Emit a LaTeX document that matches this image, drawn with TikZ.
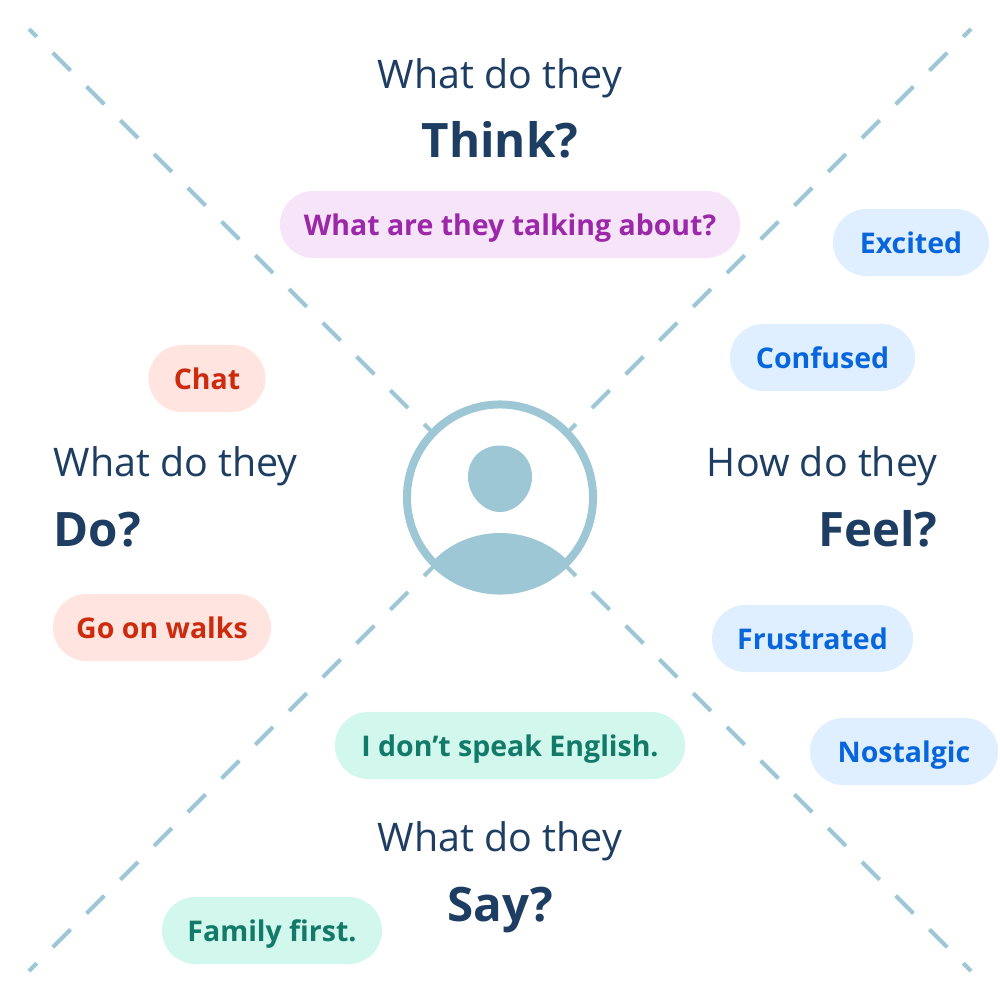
\documentclass[tikz,border=0pt]{standalone}
\usepackage{fontspec}
\setmainfont{Open Sans}
\definecolor{myline}{RGB}{158,199,214}
\definecolor{mynavy}{RGB}{30,61,98}
\definecolor{mypinkbg}{RGB}{246,228,249}
\definecolor{mypink}{RGB}{156,39,168}
\definecolor{mybluebg}{RGB}{224,239,255}
\definecolor{myblue}{RGB}{8,102,220}
\definecolor{myredbg}{RGB}{255,228,224}
\definecolor{myred}{RGB}{204,43,14}
\definecolor{mygreenbg}{RGB}{210,247,236}
\definecolor{mygreen}{RGB}{17,122,104}

\tikzset{
  diag/.style={myline, line width=0.04cm, dash pattern=on 0.25cm off 0.227cm, dash phase=0.14cm},
  ask/.style={mynavy, anchor=base, inner sep=0pt, font=\fontsize{11.2pt}{11.2pt}\selectfont},
  topic/.style={mynavy, anchor=base, inner sep=0pt, font=\fontsize{13.5pt}{13.5pt}\selectfont\bfseries},
  pill/.style={rounded corners=0.335cm, minimum height=0.67cm, inner sep=0pt,
    text height=0.27cm, text depth=0.06cm, font=\fontsize{8.1pt}{8.1pt}\selectfont\bfseries},
  thinkpill/.style={pill, fill=mypinkbg, text=mypink},
  feelpill/.style={pill, fill=mybluebg, text=myblue},
  dopill/.style={pill, fill=myredbg, text=myred},
  saypill/.style={pill, fill=mygreenbg, text=mygreen}
}

\begin{document}
\begin{tikzpicture}[x=0.01cm,y=-0.01cm]
    \useasboundingbox (0,0) rectangle (1000,1000);

    % Corners of the two diagonals
    \coordinate (tl) at (29,29);
    \coordinate (tr) at (971,29);
    \coordinate (bl) at (29,971);
    \coordinate (br) at (971,971);
    \coordinate (mid) at (500,500);

    % Draw the diagonals
    \draw[diag] (tl) -- (mid);
    \draw[diag] (tr) -- (mid);
    \draw[diag] (bl) -- (mid);
    \draw[diag] (br) -- (mid);

    % Person in the middle
    \node[circle, draw=myline, fill=white, line width=0.08cm, minimum size=1.86cm, inner sep=0pt] (avatar) at (500,497.5) {};
    \fill[myline] (500,445.5) .. controls (519,445.5) and (532,459) .. (532,477)
      .. controls (532,495) and (517,512) .. (500,512)
      .. controls (483,512) and (468,495) .. (468,477)
      .. controls (468,459) and (481,445.5) .. cycle;
    \fill[myline] (434,560) .. controls (452,542) and (476,533) .. (500,533)
      .. controls (524,533) and (548,542) .. (566,559)
      .. controls (548,581) and (526,593.5) .. (500,593.5)
      .. controls (474,593.5) and (452,581) .. cycle;

    % Think
    \node[ask] (thinkask) at (500,88.5) {What do they};
    \node[topic] (thinktopic) at (500,157) {Think?};
    \node[thinkpill, minimum width=4.6cm] (talking) at (510,224.5) {What are they talking about?};

    % Feel
    \node[ask, anchor=base east] (feelask) at (938,476.5) {How do they};
    \node[topic, anchor=base east] (feeltopic) at (938,546) {Feel?};
    \node[feelpill, minimum width=1.56cm] (excited) at (911,242.5) {Excited};
    \node[feelpill, minimum width=1.85cm] (confused) at (822.5,357.5) {Confused};
    \node[feelpill, minimum width=2.01cm] (frustrated) at (812.5,638.5) {Frustrated};
    \node[feelpill, minimum width=1.88cm] (nostalgic) at (904,751.5) {Nostalgic};

    % Do
    \node[ask, anchor=base west] (doask) at (53,476.5) {What do they};
    \node[topic, anchor=base west] (dotopic) at (53,546) {Do?};
    \node[dopill, minimum width=1.17cm] (chat) at (207,378.5) {Chat};
    \node[dopill, minimum width=2.18cm] (walks) at (162,627.5) {Go on walks};

    % Say
    \node[ask] (sayask) at (500,851.5) {What do they};
    \node[topic] (saytopic) at (500,921) {Say?};
    \node[saypill, minimum width=3.5cm] (english) at (510,745.5) {I don’t speak English.};
    \node[saypill, minimum width=2.2cm] (family) at (272,930.5) {Family first.};
\end{tikzpicture}
\end{document}
